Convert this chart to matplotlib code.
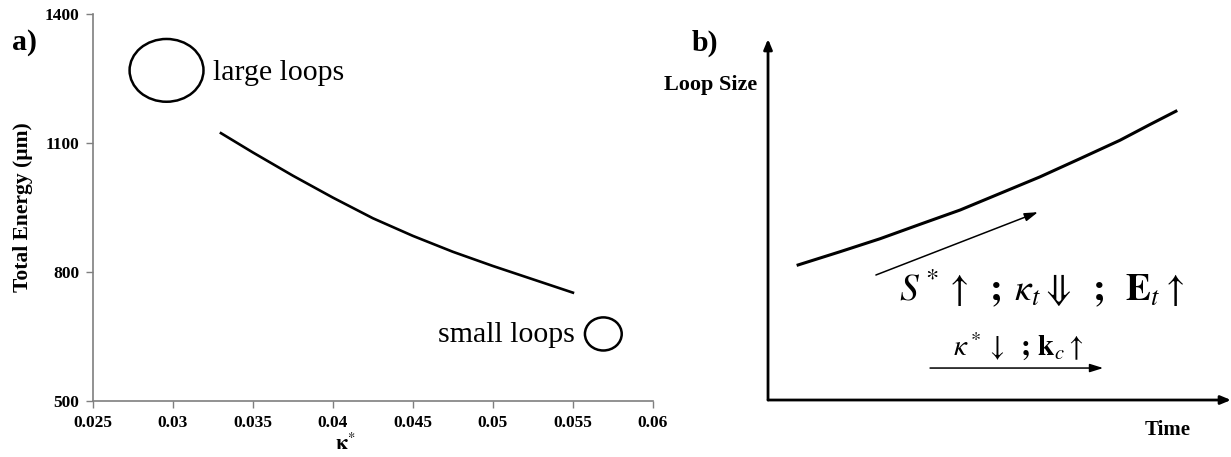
import numpy as np
import matplotlib
matplotlib.use("Agg")
import matplotlib.pyplot as plt
from matplotlib.patches import Ellipse

plt.rcParams['font.family'] = ['Liberation Serif', 'DejaVu Serif']
plt.rcParams['mathtext.fontset'] = 'stix'

# panel a data
kappa = [0.033, 0.035, 0.0375, 0.040, 0.0425, 0.045, 0.0475, 0.050, 0.0525, 0.055]
energy = [1123, 1078, 1024, 973, 925, 884, 847, 814, 783, 752]
x_ticks = [0.025, 0.03, 0.035, 0.04, 0.045, 0.05, 0.055, 0.06]
x_labels = ["0.025", "0.03", "0.035", "0.04", "0.045", "0.05", "0.055", "0.06"]
y_ticks = [500, 800, 1100, 1400]

# panel b schematic curve (normalised time / loop size)
time_b = [0.065, 0.156, 0.242, 0.328, 0.415, 0.501, 0.587, 0.674, 0.760, 0.825, 0.881]
size_b = [0.376, 0.413, 0.449, 0.489, 0.529, 0.575, 0.621, 0.672, 0.723, 0.767, 0.804]

fig = plt.figure(figsize=(12.31, 4.57), dpi=100)

# ---- a)
ax = fig.add_axes([0.0755, 0.1225, 0.4549, 0.8468])
ax.plot(kappa, energy, color="black", lw=1.9)
ax.set_xlim(0.025, 0.06)
ax.set_ylim(500, 1400)
ax.set_xticks(x_ticks)
ax.set_xticklabels(x_labels)
ax.set_yticks(y_ticks)
for s in ["top", "right"]:
    ax.spines[s].set_visible(False)
for s in ["left", "bottom"]:
    ax.spines[s].set_color("#7f7f7f")
    ax.spines[s].set_linewidth(1.2)
ax.tick_params(direction="out", length=5, width=1, color="#7f7f7f", labelsize=12.5, pad=5)
for lab in ax.get_xticklabels() + ax.get_yticklabels():
    lab.set_fontweight("bold")
ax.set_ylabel("Total Energy (µm)", fontsize=15.5, fontweight="bold")
ax.yaxis.set_label_coords(-0.107, 0.5)
ax.set_xlabel(r"$\mathbf{\kappa}^{*}$", fontsize=15)
ax.xaxis.set_label_coords(0.45, -0.083)

ax.add_patch(Ellipse((0.0296, 1269), 0.00462, 146, fill=False, lw=1.8, color="black", clip_on=False))
ax.add_patch(Ellipse((0.0569, 656), 0.0023, 77, fill=False, lw=1.8, color="black", clip_on=False))
ax.text(0.0325, 1262, "large loops", fontsize=21.5, va="center", ha="left")
ax.text(0.04656, 654, "small loops", fontsize=21.5, va="center", ha="left")
fig.text(12 / 1231, 1 - 43 / 457, "a)", fontsize=21.5, fontweight="bold", va="center", ha="left")

# ---- b)
bx = fig.add_axes([0.6239, 0.1247, 0.3761, 0.786])
bx.set_xlim(0, 1)
bx.set_ylim(0, 1)
bx.axis("off")
arrow_kw = dict(arrowstyle="-|>,head_length=0.6,head_width=0.25", color="black", lw=2, shrinkA=0, shrinkB=0)
bx.annotate("", xy=(0, 1.005), xytext=(0, 0), arrowprops=arrow_kw, annotation_clip=False)
bx.annotate("", xy=(1.0, 0), xytext=(0, 0), arrowprops=arrow_kw, annotation_clip=False)
bx.plot(time_b, size_b, color="black", lw=2.2)

thin_kw = dict(arrowstyle="-|>,head_length=0.8,head_width=0.25", color="black", lw=1.1, shrinkA=0, shrinkB=0)
bx.annotate("", xy=(0.583, 0.523), xytext=(0.233, 0.348), arrowprops=thin_kw)
bx.annotate("", xy=(0.724, 0.089), xytext=(0.350, 0.089), arrowprops=thin_kw)

bx.text(0.59, 0.312, r"$S^*\uparrow\;\;\mathbf{;}\;\kappa_t\Downarrow\;\;\mathbf{;}\;\;\mathbf{E}_t\uparrow$",
        fontsize=27, ha="center", va="center")
bx.text(0.54, 0.148, r"$\kappa^*\downarrow\;\;\mathbf{;}\,\mathbf{k}_c\uparrow$",
        fontsize=21, ha="center", va="center")
bx.text(0.864, -0.083, "Time", fontsize=15, fontweight="bold", ha="center", va="center")
bx.text(-0.125, 0.877, "Loop Size", fontsize=16, fontweight="bold", ha="center", va="center")
bx.text(-0.136, 0.993, "b)", fontsize=21.5, fontweight="bold", ha="center", va="center")

fig.savefig("out.png", dpi=100)
